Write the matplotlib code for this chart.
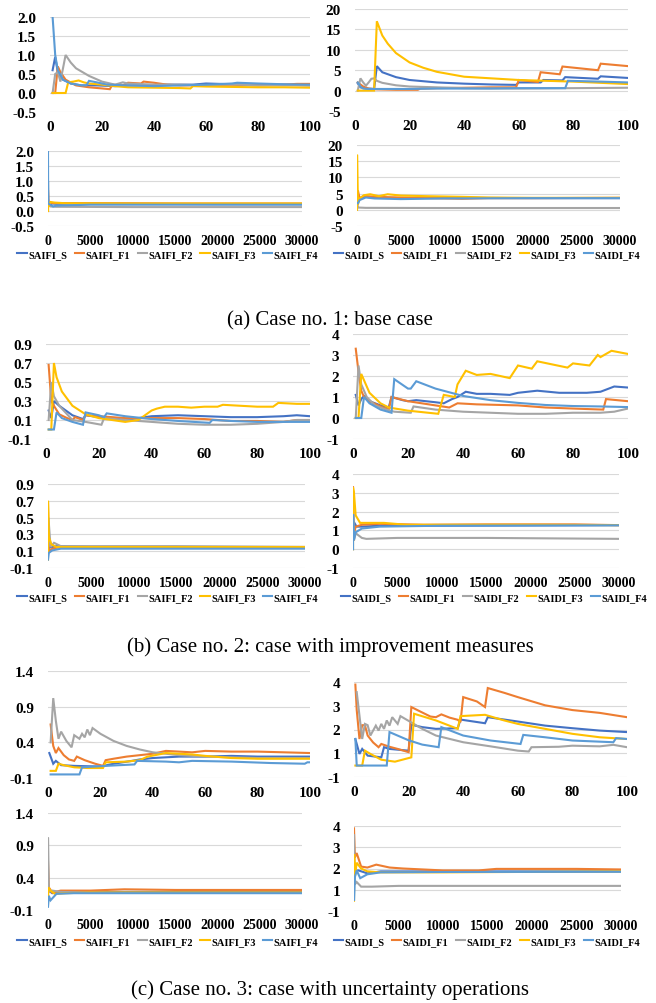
import numpy as np
import matplotlib
matplotlib.use("Agg")
import matplotlib.pyplot as plt

W, H = 656, 1004
colors = ['#4472C4', '#ED7D31', '#A5A5A5', '#FFC000', '#5B9BD5']
saifi_names = ['SAIFI_S', 'SAIFI_F1', 'SAIFI_F2', 'SAIFI_F3', 'SAIFI_F4']
saidi_names = ['SAIDI_S', 'SAIDI_F1', 'SAIDI_F2', 'SAIDI_F3', 'SAIDI_F4']
captions = ['(a) Case no. 1: base case',
            '(b) Case no. 2: case with improvement measures',
            '(c) Case no. 3: case with uncertainty operations']

short_xticks = [0, 20, 40, 60, 80, 100]
long_xticks = [0, 5000, 10000, 15000, 20000, 25000, 30000]

# y axes (tick values, tick labels)
c1_fi_yticks = [-0.5, 0.0, 0.5, 1.0, 1.5, 2.0]
c1_fi_ylabels = ['-0.5', '0.0', '0.5', '1.0', '1.5', '2.0']
c1_di_yticks = [-5, 0, 5, 10, 15, 20]
c1_di_ylabels = ['-5', '0', '5', '10', '15', '20']
c2_fi_yticks = [-0.1, 0.1, 0.3, 0.5, 0.7, 0.9]
c2_fi_ylabels = ['-0.1', '0.1', '0.3', '0.5', '0.7', '0.9']
c2_di_yticks = [-1, 0, 1, 2, 3, 4]
c2_di_ylabels = ['-1', '0', '1', '2', '3', '4']
c3_fi_yticks = [-0.1, 0.4, 0.9, 1.4]
c3_fi_ylabels = ['-0.1', '0.4', '0.9', '1.4']
c3_di_yticks = [-0.5, 0.6, 1.7, 2.8, 3.9]
c3_di_ylabels = ['-1', '1', '2', '3', '4']

# ---- case 1 ----
c1_fi_S = [(1,0.6),(2,0.95),(3,0.55),(5,0.35),(8,0.25),(12,0.2),(18,0.2),(25,0.18),(30,0.2),(35,0.2),(45,0.22),(55,0.22),(60,0.25),(70,0.23),(80,0.22),(90,0.22),(100,0.2)]
c1_fi_F1 = [(1,0),(2,0),(3,0.7),(4,0.55),(6,0.35),(10,0.2),(15,0.15),(20,0.12),(23,0.1),(24,0.22),(28,0.2),(30,0.27),(35,0.25),(36,0.3),(40,0.27),(45,0.22),(50,0.2),(60,0.2),(70,0.22),(80,0.2),(90,0.22),(95,0.24),(100,0.24)]
c1_fi_F2 = [(1,0),(2,0.5),(3,0.55),(4,0.3),(6,1.0),(8,0.8),(10,0.65),(15,0.45),(20,0.3),(25,0.22),(28,0.28),(30,0.25),(40,0.22),(50,0.22),(60,0.2),(70,0.23),(80,0.2),(90,0.2),(100,0.2)]
c1_fi_F3 = [(1,0),(6,0),(7,0.28),(9,0.3),(11,0.33),(13,0.28),(15,0.25),(20,0.22),(25,0.18),(30,0.15),(40,0.14),(50,0.13),(54,0.12),(55,0.18),(60,0.17),(70,0.16),(80,0.15),(90,0.15),(100,0.14)]
c1_fi_F4 = [(1,2.0),(2,1.0),(3,0.6),(5,0.35),(8,0.25),(12,0.2),(14,0.2),(15,0.32),(18,0.28),(22,0.22),(30,0.2),(40,0.18),(50,0.2),(60,0.22),(70,0.25),(72,0.27),(80,0.25),(90,0.23),(100,0.22)]

c1_di_S = [(1,1.8),(2,0.8),(4,0.5),(7,0.4),(8,6.0),(10,4.5),(15,3.3),(20,2.6),(30,2.0),(40,1.7),(50,1.5),(59,1.4),(60,2.0),(68,2.0),(69,2.6),(76,2.5),(77,3.3),(89,2.9),(90,3.5),(100,3.1)]
c1_di_F1 = [(1,2.0),(2,1.5),(3,1.0),(5,0.5),(8,0.3),(15,0.2),(23,0.2),(24,0.5),(30,0.6),(40,0.7),(50,0.8),(59,0.8),(60,2.6),(67,2.1),(68,4.5),(75,4.0),(76,5.9),(89,5.0),(90,6.6),(100,6.0)]
c1_di_F2 = [(1,0),(2,3.0),(3,2.0),(4,1.2),(5,2.0),(6,2.9),(7,3.0),(8,2.4),(10,1.9),(15,1.3),(20,1.0),(30,0.8),(40,0.6),(60,0.5),(80,0.6),(100,0.7)]
c1_di_F3 = [(1,0),(7,0),(8,17.0),(10,13.5),(12,11.5),(15,9.2),(20,6.9),(25,5.6),(30,4.6),(40,3.4),(50,3.0),(60,2.6),(70,2.4),(80,2.2),(90,1.9),(100,1.6)]
c1_di_F4 = [(1,2.0),(2,1.0),(3,0.5),(5,0.4),(10,0.4),(20,0.4),(30,0.5),(40,0.5),(50,0.5),(60,0.6),(77,0.6),(78,2.4),(90,2.2),(100,2.0)]

c1_fil_S = [(1,0.6),(20,0.4),(100,0.2),(500,0.25),(1000,0.24),(3000,0.25),(10000,0.24),(20000,0.23),(30000,0.23)]
c1_fil_F1 = [(1,0),(3,0.7),(50,0.2),(300,0.27),(1000,0.26),(5000,0.26),(15000,0.25),(30000,0.25)]
c1_fil_F2 = [(1,0),(6,1.0),(50,0.2),(300,0.15),(1000,0.14),(10000,0.13),(30000,0.13)]
c1_fil_F3 = [(1,0),(7,0.3),(100,0.14),(300,0.3),(800,0.28),(2000,0.26),(10000,0.25),(30000,0.25)]
c1_fil_F4 = [(1,2.0),(20,0.25),(200,0.22),(600,0.15),(1000,0.18),(5000,0.21),(15000,0.21),(30000,0.21)]

c1_dil_S = [(1,1.8),(8,6),(100,3.2),(500,3.8),(1000,4.0),(2000,3.8),(5000,3.6),(10000,3.7),(20000,3.6),(30000,3.6)]
c1_dil_F1 = [(1,2),(100,6),(300,3.5),(800,4.3),(2000,4.0),(5000,3.8),(12000,3.4),(15000,3.6),(20000,3.6),(30000,3.7)]
c1_dil_F2 = [(1,0),(6,3),(100,0.7),(1000,0.6),(10000,0.55),(30000,0.55)]
c1_dil_F3 = [(1,0),(8,17),(100,1.6),(300,3.5),(800,4.5),(1500,4.8),(2500,4.2),(3500,4.8),(5000,4.4),(8000,4.2),(12000,4.0),(15000,3.8),(20000,3.7),(30000,3.7)]
c1_dil_F4 = [(1,2),(100,2),(300,3.0),(1000,3.8),(2000,3.5),(5000,3.3),(10000,3.5),(20000,3.6),(30000,3.6)]

# ---- case 2 ----
c2_fi_S = [(1,0.2),(2,0.12),(3,0.3),(5,0.25),(10,0.15),(14,0.11),(15,0.15),(20,0.13),(25,0.12),(30,0.1),(35,0.12),(40,0.14),(50,0.15),(60,0.14),(70,0.13),(80,0.13),(90,0.14),(95,0.15),(100,0.14)]
c2_fi_F1 = [(1,0.68),(2,0.3),(3,0.25),(5,0.16),(8,0.12),(10,0.1),(11,0.13),(14,0.1),(15,0.15),(20,0.14),(30,0.12),(40,0.12),(50,0.12),(60,0.11),(70,0.09),(80,0.09),(90,0.08),(95,0.1),(100,0.1)]
c2_fi_F2 = [(1,0.1),(2,0.5),(3,0.35),(5,0.25),(10,0.1),(15,0.08),(21,0.05),(22,0.12),(30,0.1),(40,0.08),(50,0.06),(60,0.05),(70,0.05),(80,0.06),(90,0.08),(95,0.1),(100,0.1)]
c2_fi_F3 = [(1,0),(2,0),(3,0.7),(4,0.55),(6,0.4),(10,0.25),(15,0.16),(20,0.12),(25,0.1),(30,0.08),(35,0.1),(37,0.14),(40,0.2),(42,0.22),(45,0.24),(50,0.24),(55,0.23),(60,0.24),(65,0.24),(67,0.26),(80,0.24),(86,0.24),(88,0.28),(95,0.27),(100,0.27)]
c2_fi_F4 = [(1,0),(3,0),(4,0.18),(6,0.12),(10,0.08),(14,0.05),(15,0.18),(20,0.15),(22,0.13),(23,0.17),(30,0.14),(40,0.11),(50,0.09),(62,0.07),(63,0.1),(70,0.09),(80,0.08),(90,0.08),(100,0.08)]

c2_di_S = [(1,1.1),(2,0.6),(3,0.9),(4,1.05),(6,0.8),(10,0.6),(13,0.5),(14,1.0),(18,0.85),(20,0.8),(23,0.85),(30,0.75),(33,0.7),(36,0.9),(38,1.0),(41,1.25),(45,1.15),(50,1.15),(57,1.1),(60,1.2),(67,1.3),(75,1.2),(85,1.2),(90,1.25),(95,1.5),(100,1.45)]
c2_di_F1 = [(1,3.3),(2,2.2),(3,1.3),(4,1.0),(6,0.8),(10,0.55),(13,0.4),(14,1.0),(20,0.8),(25,0.7),(30,0.6),(35,0.5),(38,0.7),(45,0.65),(60,0.6),(70,0.5),(80,0.45),(91,0.4),(92,0.9),(100,0.8)]
c2_di_F2 = [(1,0),(2,2.5),(3,1.6),(5,1.0),(8,0.6),(12,0.4),(15,0.3),(21,0.25),(22,0.55),(30,0.4),(40,0.3),(50,0.25),(60,0.2),(70,0.2),(80,0.25),(90,0.25),(95,0.3),(100,0.45)]
c2_di_F3 = [(1,0),(2,0),(3,2.1),(4,1.8),(6,1.2),(10,0.7),(13,0.5),(20,0.35),(31,0.2),(33,1.1),(37,1.0),(38,1.6),(41,2.25),(45,2.05),(50,2.1),(57,1.9),(60,2.5),(65,2.35),(67,2.7),(78,2.4),(80,2.6),(86,2.5),(89,3.0),(90,2.9),(94,3.2),(100,3.05)]
c2_di_F4 = [(1,0),(3,0),(4,1.0),(6,0.7),(10,0.4),(14,0.25),(15,1.85),(20,1.4),(21,1.4),(23,1.75),(30,1.4),(40,1.05),(50,0.85),(60,0.72),(70,0.62),(80,0.57),(90,0.55),(100,0.52)]

c2_fil_S = [(1,0.2),(100,0.14),(500,0.15),(1000,0.16),(5000,0.15),(15000,0.15),(30000,0.15)]
c2_fil_F1 = [(1,0.68),(100,0.1),(500,0.13),(1500,0.15),(5000,0.15),(15000,0.15),(30000,0.15)]
c2_fil_F2 = [(1,0.1),(50,0.5),(300,0.15),(700,0.2),(1500,0.16),(5000,0.16),(15000,0.16),(30000,0.15)]
c2_fil_F3 = [(1,0),(3,0.7),(100,0.27),(400,0.18),(1000,0.15),(5000,0.15),(15000,0.15),(30000,0.15)]
c2_fil_F4 = [(1,0),(100,0.08),(500,0.11),(1500,0.13),(5000,0.13),(15000,0.13),(30000,0.13)]

c2_dil_S = [(1,1.1),(100,1.45),(400,1.2),(1000,1.2),(3000,1.25),(10000,1.25),(30000,1.28)]
c2_dil_F1 = [(1,3.3),(100,0.8),(300,1.2),(1000,1.3),(3000,1.35),(8000,1.3),(15000,1.32),(25000,1.32),(30000,1.28)]
c2_dil_F2 = [(1,0),(2,2.5),(100,0.45),(300,0.85),(1000,0.6),(1500,0.55),(5000,0.6),(15000,0.6),(30000,0.55)]
c2_dil_F3 = [(1,0),(3,3.3),(100,3.05),(300,1.8),(800,1.4),(2000,1.4),(3500,1.4),(6000,1.3),(10000,1.3),(20000,1.3),(30000,1.28)]
c2_dil_F4 = [(1,0),(15,1.85),(100,0.5),(300,0.9),(1000,1.1),(3000,1.2),(10000,1.25),(30000,1.27)]

# ---- case 3 ----
c3_fi_S = [(0.5,0.25),(2,0.1),(3,0.14),(5,0.08),(10,0.07),(20,0.06),(25,0.1),(32,0.14),(35,0.16),(40,0.18),(50,0.2),(60,0.2),(70,0.21),(80,0.2),(90,0.2),(100,0.2)]
c3_fi_F1 = [(1,0.65),(2,0.35),(3,0.25),(4,0.32),(6,0.22),(8,0.16),(10,0.14),(11,0.2),(14,0.15),(18,0.1),(21,0.07),(22,0.15),(25,0.17),(30,0.2),(35,0.22),(40,0.24),(45,0.28),(55,0.26),(60,0.28),(70,0.27),(80,0.27),(90,0.26),(100,0.25)]
c3_fi_F2 = [(1,0.4),(2,1.02),(3,0.7),(4,0.45),(5,0.55),(7,0.42),(9,0.33),(10,0.5),(12,0.45),(13,0.52),(14,0.47),(15,0.58),(16,0.5),(17,0.6),(20,0.52),(25,0.42),(30,0.35),(35,0.3),(40,0.26),(50,0.22),(60,0.2),(70,0.19),(80,0.18),(100,0.18)]
c3_fi_F3 = [(1,0),(3,0),(4,0.1),(6,0.08),(10,0.05),(15,0.04),(21,0.04),(22,0.12),(30,0.13),(35,0.15),(38,0.2),(45,0.25),(55,0.23),(60,0.21),(70,0.18),(80,0.17),(90,0.17),(100,0.17)]
c3_fi_F4 = [(1,-0.05),(12,-0.05),(13,0.05),(22,0.07),(33,0.09),(34,0.14),(45,0.13),(50,0.12),(55,0.14),(70,0.13),(85,0.11),(98,0.1),(99,0.12),(100,0.12)]

c3_di_S = [(0.5,1.26),(2,0.57),(3,0.8),(5,0.49),(10,0.41),(11,0.88),(13,0.8),(20,0.72),(21,1.92),(25,1.81),(30,1.73),(38,1.76),(39,2.16),(48,1.99),(49,2.27),(60,2.07),(70,1.88),(80,1.76),(90,1.65),(100,1.58)]
c3_di_F1 = [(0.5,3.78),(1,2.6),(2,1.26),(3,1.9),(4,1.9),(5,1.42),(7,1.1),(9,0.88),(10,1.03),(13,0.9),(16,0.8),(20,0.65),(21,2.74),(24,2.55),(28,2.3),(30,2.27),(32,2.4),(35,2.25),(38,2.15),(39,2.04),(40,3.2),(45,3.0),(48,2.74),(49,3.62),(55,3.4),(60,3.2),(70,2.82),(80,2.6),(90,2.47),(100,2.27)]
c3_di_F2 = [(1,3.43),(3,1.26),(4,1.96),(5,1.9),(6,1.42),(8,1.88),(9,1.65),(10,1.96),(11,1.73),(12,2.12),(13,1.88),(14,2.27),(16,1.96),(17,2.32),(20,2.1),(25,1.73),(30,1.42),(40,1.11),(50,0.92),(60,0.72),(64,0.68),(65,0.88),(75,0.9),(80,0.95),(90,0.92),(95,0.99),(100,0.88)]
c3_di_F3 = [(0.5,0.03),(3,0.03),(4,0.72),(6,0.57),(10,0.3),(15,0.21),(21,0.41),(22,2.43),(30,2.12),(38,1.73),(39,2.32),(48,2.38),(55,2.12),(60,1.96),(70,1.73),(80,1.5),(90,1.34),(100,1.26)]
c3_di_F4 = [(0.5,1.26),(1,0.03),(12,0.03),(13,1.58),(20,1.2),(25,1.0),(31,0.88),(32,1.81),(40,1.42),(50,1.19),(61,1.03),(62,1.45),(70,1.34),(80,1.19),(95,1.11),(96,1.3),(100,1.26)]

c3_fil_S = [(1,0.25),(100,0.2),(500,0.16),(1500,0.18),(5000,0.18),(15000,0.18),(30000,0.18)]
c3_fil_F1 = [(1,0.65),(100,0.25),(500,0.17),(1500,0.2),(5000,0.2),(9000,0.22),(15000,0.21),(30000,0.21)]
c3_fil_F2 = [(1,0.4),(2,1.02),(100,0.18),(500,0.2),(1500,0.18),(5000,0.17),(30000,0.17)]
c3_fil_F3 = [(1,0),(50,0.25),(300,0.2),(800,0.15),(2000,0.16),(5000,0.17),(30000,0.17)]
c3_fil_F4 = [(1,-0.05),(100,0.12),(300,0.05),(1000,0.15),(3000,0.16),(10000,0.16),(30000,0.16)]

c3_dil_S = [(1,1.26),(100,1.58),(500,1.6),(1500,1.45),(3000,1.55),(10000,1.55),(30000,1.55)]
c3_dil_F1 = [(1,3.78),(100,2.27),(300,2.5),(800,1.8),(1500,1.75),(2500,1.9),(4000,1.75),(5500,1.7),(10000,1.6),(14000,1.6),(16000,1.68),(25000,1.68),(30000,1.65)]
c3_dil_F2 = [(1,3.43),(100,0.88),(300,1.0),(800,0.76),(2000,0.76),(5000,0.8),(30000,0.8)]
c3_dil_F3 = [(1,0.03),(22,2.43),(100,1.26),(300,2.0),(800,1.7),(1500,1.55),(3000,1.5),(10000,1.5),(30000,1.55)]
c3_dil_F4 = [(1,1.26),(2,0.03),(100,1.26),(300,1.6),(700,1.2),(1500,1.4),(3000,1.5),(10000,1.52),(30000,1.53)]

SERIF = 'Liberation Serif'
fig = plt.figure(figsize=(W / 100, H / 100), dpi=100)


def px_axes(l, t, r, b):
    return fig.add_axes([l / W, 1 - b / H, (r - l) / W, (b - t) / H])


def draw(ax, series, xticks, yticks, ylabels):
    for s, c in zip(series, colors):
        xs = [p[0] for p in s]
        ys = [p[1] for p in s]
        ax.plot(xs, ys, color=c, lw=1.5, solid_joinstyle='miter')
    ax.set_xlim(xticks[0], xticks[-1])
    ax.set_ylim(yticks[0], yticks[-1])
    ax.set_xticks(xticks)
    ax.set_yticks(yticks)
    ax.set_yticklabels(ylabels)
    ax.grid(axis='y', color='#d9d9d9', lw=0.8)
    ax.set_axisbelow(True)
    for sp in ax.spines.values():
        sp.set_visible(False)
    xsize = 10 if xticks[-1] > 1000 else 11
    ax.tick_params(axis='x', length=0, labelsize=xsize, pad=6)
    ax.tick_params(axis='y', length=0, labelsize=11, pad=10)
    for lab in ax.get_xticklabels() + ax.get_yticklabels():
        lab.set_fontfamily(SERIF)
        lab.set_fontweight('bold')


def legend(ax, names, cx, cy):
    handles = ax.get_lines()
    ax.legend(handles, names, loc='center', bbox_to_anchor=(cx / W, 1 - cy / H),
              bbox_transform=fig.transFigure, ncol=5, frameon=False,
              prop={'family': SERIF, 'weight': 'bold', 'size': 7.5},
              handlelength=0.9, handletextpad=0.15, columnspacing=0.7,
              borderpad=0, borderaxespad=0)


# case 1
ax = px_axes(50, 18, 310, 113)
draw(ax, [c1_fi_S, c1_fi_F1, c1_fi_F2, c1_fi_F3, c1_fi_F4], short_xticks, c1_fi_yticks, c1_fi_ylabels)
ax = px_axes(355, 10, 628, 112)
draw(ax, [c1_di_S, c1_di_F1, c1_di_F2, c1_di_F3, c1_di_F4], short_xticks, c1_di_yticks, c1_di_ylabels)
ax = px_axes(48, 152, 302, 227)
draw(ax, [c1_fil_S, c1_fil_F1, c1_fil_F2, c1_fil_F3, c1_fil_F4], long_xticks, c1_fi_yticks, c1_fi_ylabels)
legend(ax, saifi_names, 168, 255)
ax = px_axes(357, 146, 620, 227)
draw(ax, [c1_dil_S, c1_dil_F1, c1_dil_F2, c1_dil_F3, c1_dil_F4], long_xticks, c1_di_yticks, c1_di_ylabels)
legend(ax, saidi_names, 487, 255)

# case 2
ax = px_axes(46, 345, 310, 440)
draw(ax, [c2_fi_S, c2_fi_F1, c2_fi_F2, c2_fi_F3, c2_fi_F4], short_xticks, c2_fi_yticks, c2_fi_ylabels)
ax = px_axes(353, 335, 628, 440)
draw(ax, [c2_di_S, c2_di_F1, c2_di_F2, c2_di_F3, c2_di_F4], short_xticks, c2_di_yticks, c2_di_ylabels)
ax = px_axes(48, 485, 305, 569)
draw(ax, [c2_fil_S, c2_fil_F1, c2_fil_F2, c2_fil_F3, c2_fil_F4], long_xticks, c2_fi_yticks, c2_fi_ylabels)
legend(ax, saifi_names, 168, 598)
ax = px_axes(353, 475, 619, 569)
draw(ax, [c2_dil_S, c2_dil_F1, c2_dil_F2, c2_dil_F3, c2_dil_F4], long_xticks, c2_di_yticks, c2_di_ylabels)
legend(ax, saidi_names, 494, 598)

# case 3
ax = px_axes(48, 672, 310, 779)
draw(ax, [c3_fi_S, c3_fi_F1, c3_fi_F2, c3_fi_F3, c3_fi_F4], short_xticks, c3_fi_yticks, c3_fi_ylabels)
ax = px_axes(354, 683, 627, 778)
draw(ax, [c3_di_S, c3_di_F1, c3_di_F2, c3_di_F3, c3_di_F4], short_xticks, c3_di_yticks, c3_di_ylabels)
ax = px_axes(48, 814, 302, 911)
draw(ax, [c3_fil_S, c3_fil_F1, c3_fil_F2, c3_fil_F3, c3_fil_F4], long_xticks, c3_fi_yticks, c3_fi_ylabels)
legend(ax, saifi_names, 168, 942)
ax = px_axes(354, 827, 621, 912)
draw(ax, [c3_dil_S, c3_dil_F1, c3_dil_F2, c3_dil_F3, c3_dil_F4], long_xticks, c3_di_yticks, c3_di_ylabels)
legend(ax, saidi_names, 487, 942)

for cap, y in zip(captions, [321, 647, 990]):
    fig.text(330 / W, 1 - y / H, cap, ha='center', va='center', family=SERIF, fontsize=15)

fig.savefig('out.png', dpi=100)
